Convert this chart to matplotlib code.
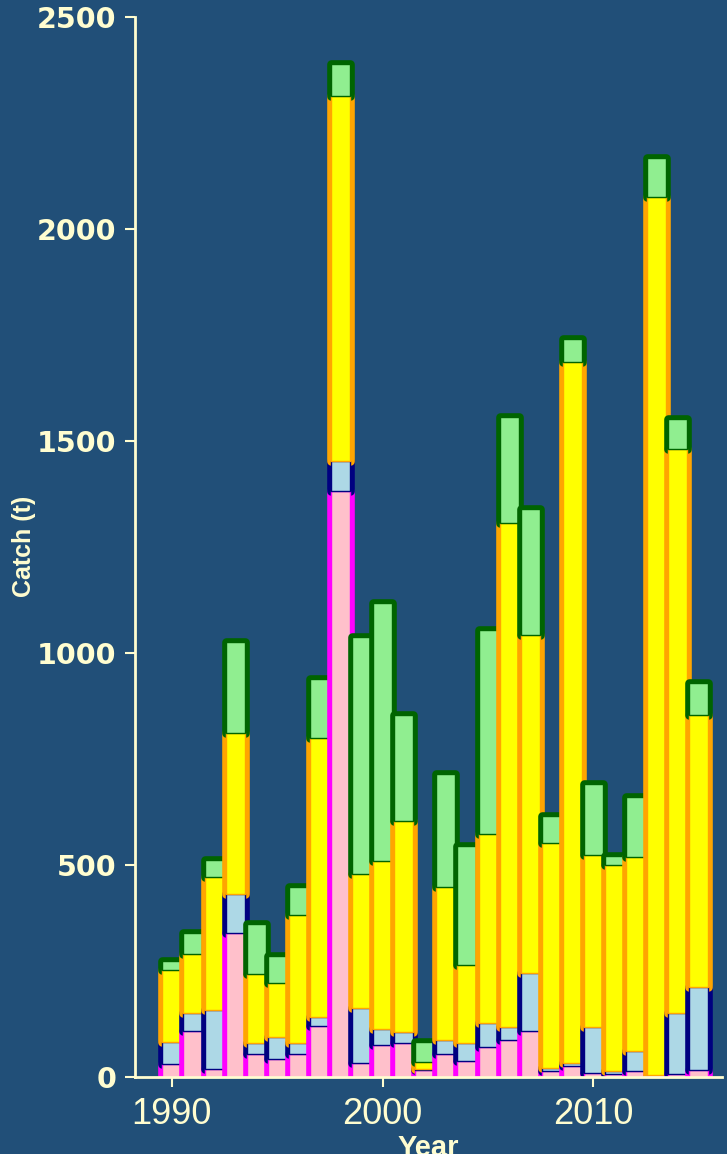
import matplotlib
matplotlib.use("Agg")
import matplotlib.pyplot as plt
import numpy as np

# ---- data (t) ----
years = list(range(1990, 2016))
layer1 = [29, 108, 17, 339, 53, 41, 54, 119, 1382, 31, 74, 78, 15, 53, 37, 70, 85, 108, 14, 25, 9, 7, 14, 3, 5, 15]
layer2 = [53, 42, 140, 91, 25, 53, 24, 22, 70, 130, 37, 28, 2, 32, 41, 57, 31, 137, 5, 6, 107, 7, 47, 1, 144, 197]
layer3 = [169, 138, 314, 381, 163, 126, 302, 658, 862, 316, 398, 498, 18, 361, 184, 445, 1189, 796, 533, 1655, 407, 485, 456, 2072, 1332, 641]
layer4 = [22, 51, 40, 215, 118, 65, 68, 138, 75, 559, 608, 249, 47, 268, 282, 482, 252, 297, 63, 54, 167, 21, 143, 91, 70, 76]

layers = [layer1, layer2, layer3, layer4]
fills = ["#FFC0CB", "#ADD8E6", "#FFFF00", "#90EE90"]
edges = ["#FF00FF", "#000080", "#FFA500", "#006400"]

BG = "#214f78"
FG = "#fffdd0"

fig = plt.figure(figsize=(7.27, 11.54), dpi=100, facecolor=BG)
ax = fig.add_axes([135/727, 1-1076.5/1154, (722-135)/727, (1076.5-17)/1154])
ax.set_facecolor(BG)

x = np.array(years)
bottoms = np.zeros(len(years))
width = 0.9
stroke_containers = []
fill_containers = []
for vals, fc, ec in zip(layers, fills, edges):
    v = np.array(vals, dtype=float)
    sc = ax.bar(x, v, width=width, bottom=bottoms, color=ec, edgecolor=ec,
                linewidth=6.2)
    stroke_containers.append(sc)
    fcn = ax.bar(x, v, width=width, bottom=bottoms, color=fc, edgecolor=ec,
                 linewidth=1.0)
    fill_containers.append(fcn)
    bottoms = bottoms + v

for i in range(len(years)):
    for sc in stroke_containers:
        sc.patches[i].set_zorder(1 + 0.03 * i)
        sc.patches[i].set_joinstyle("round")
    for fcn in fill_containers:
        fcn.patches[i].set_zorder(1 + 0.03 * i + 0.01)

ax.set_xlim(1988.25, 2016.1)
ax.set_ylim(0, 2500)
ax.set_yticks([0, 500, 1000, 1500, 2000, 2500])
ax.set_xticks([1990, 2000, 2010])

for s in ["top", "right"]:
    ax.spines[s].set_visible(False)
for s in ["left", "bottom"]:
    ax.spines[s].set_color(FG)
    ax.spines[s].set_linewidth(2.0)
    ax.spines[s].set_zorder(5)

ax.tick_params(axis="y", colors=FG, length=7, width=1.5, pad=6.5)
ax.tick_params(axis="x", colors=FG, length=7, width=1.5, pad=7.5)
for lab in ax.get_yticklabels():
    lab.set_fontfamily("DejaVu Sans")
    lab.set_fontweight("bold")
    lab.set_fontsize(20.5)
    lab.set_color(FG)
for lab in ax.get_xticklabels():
    lab.set_fontfamily("Liberation Sans")
    lab.set_fontsize(26)
    lab.set_color(FG)

ax.set_xlabel("Year", fontsize=21, fontweight="bold", color=FG,
              family="Liberation Sans", labelpad=1.5)
ax.yaxis.set_label_coords(-0.168, 0.5)
ax.set_ylabel("Catch (t)", fontsize=18, fontweight="bold", color=FG,
              family="Liberation Sans")

fig.savefig("out.png", dpi=100, facecolor=BG)
